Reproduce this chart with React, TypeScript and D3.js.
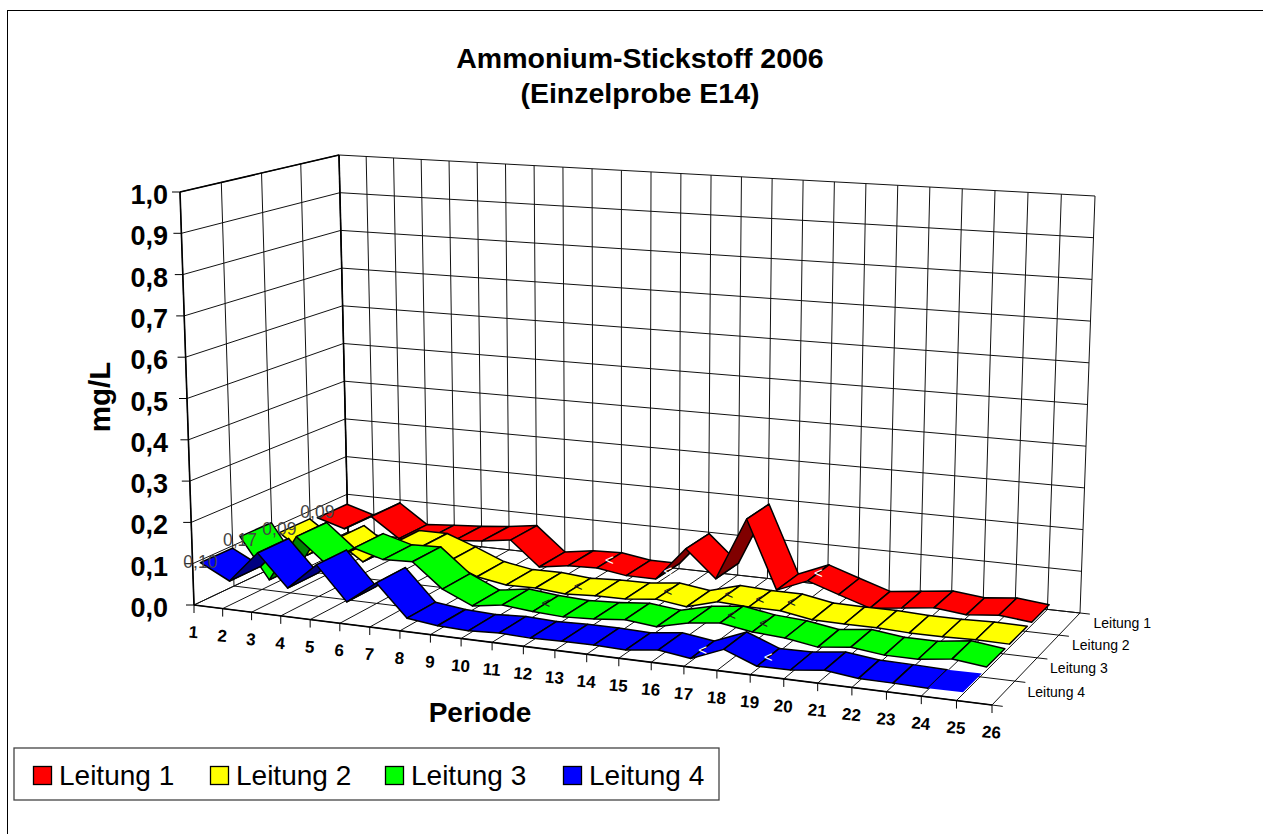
import React from "react";
import * as d3 from "d3";

const titleLines = ["Ammonium-Stickstoff 2006", "(Einzelprobe E14)"];
const seriesNames = ["Leitung 1", "Leitung 2", "Leitung 3", "Leitung 4"];
const seriesColors = ["#ff0000", "#ffff00", "#00ff00", "#0000ff"];
const backColors = ["#800000", "#808000", "#008000", "#000080"];
const periods = d3.range(1, 27);
const valueTicks = d3.range(0, 11).map(i => i / 10);

const leitung1 = [.078,.057,.096,.047,.053,.058,.065,.075,.015,.026,.029,.018,.018,.101,.035,.19,.024,.055,.03,.006,.015,.024,.016,.024,.016];
const leitung2 = [.084,.035,.082,.034,.085,.085,.059,.03,.018,.019,.013,.017,.018,.026,.016,.037,.033,.033,.02,.019,.019,.016,.016,.018,.017];
const leitung3 = [.118,.019,.134,.076,.122,.102,.105,.047,.015,.026,.019,.015,.019,.026,.018,.036,.045,.033,.028,.016,.025,.016,.016,.026,.017];
const leitung4 = [.098,.062,.138,.062,.126,.046,.1,.025,.016,.013,.017,.014,.016,.016,.014,.023,.013,.043,.014,.015,.024,.015,.014,.012,.013];
const seriesValues = [leitung1, leitung2, leitung3, leitung4];

const firstLabels = ["0,09", "0,09", "0,17", "0,10"];
const lessThanPoints = [[10, 12, 17], [10, 13, 15, 16, 17], [10, 16, 17], [16, 18]];
const lessThanColors = ["#fff", "#222", "#222", "#fff"];

// picture-plane corners of the chart box (floor and top), plus the skew of its two horizontal axes
const A = [194, 605], B = [992, 705], C = [1080, 613], D = [348, 532];
const E = [180, 192], H = [1002, 252], G = [1095, 196], F = [339, 155];
const skewU = 1.118, skewV = 0.95;
const labelNudgeY = [0, 2, 9, 5];
const warp = (t: number, c: number) => t / (c + (1 - c) * t);
const mix = (a: number[], b: number[], t: number) => [a[0] + (b[0] - a[0]) * t, a[1] + (b[1] - a[1]) * t];
const project = (u: number, v0: number, w: number) => {
  const t = warp(u, skewU), v = warp(v0, skewV);
  return mix(mix(mix(A, B, t), mix(D, C, t), v), mix(mix(E, H, t), mix(F, G, t), v), w);
};

const xScale = d3.scaleLinear().domain([1, 26]).range([0, 1]);
const zScale = d3.scaleBand<string>().domain([...seriesNames].reverse()).range([0, 1]);
const yScale = d3.scaleLinear().domain([0, 1]).range([0, 1]);
const ribbonFront = 0.03, ribbonBack = 0.23, pointShift = 0.1;
const poly = d3.line<number[]>().curve(d3.curveLinearClosed);
const seg = (a: number[], b: number[]) => d3.line<number[]>()([a, b]) as string;
const area2 = (p: number[][]) => d3.polygonArea(p as [number, number][]);

const font = "'Liberation Sans', Arial, sans-serif";

export default function App() {
  const gridV = periods.map(p => xScale(p));
  const depth = d3.range(0, 5).map(i => i / 4);
  const wallLines = [
    ...gridV.map(u => seg(project(u, 1, 0), project(u, 1, 1))),
    ...gridV.map(u => seg(project(u, 0, 0), project(u, 1, 0))),
    ...valueTicks.map(t => seg(project(0, 1, yScale(t)), project(1, 1, yScale(t)))),
    ...valueTicks.map(t => seg(project(0, 0, yScale(t)), project(0, 1, yScale(t)))),
    ...depth.map(v => seg(project(0, v, 0), project(1.012, v, 0))),
    ...depth.map(v => seg(project(0, v, 0), project(0, v, 1))),
  ];
  const frontAxis = [
    seg(project(0, 0, 0), project(1, 0, 0)),
    seg(project(0, 0, 0), project(0, 0, 1)),
    seg(project(0, 1, 0), project(0, 1, 1)),
    seg(project(0, 0, 1), project(0, 1, 1)),
  ];
  return (
    <svg width={1263} height={834} style={{ position: "absolute", left: 0, top: 0, background: "#fff" }} fontFamily={font}>
      <rect x={7.5} y={10.5} width={1300} height={900} fill="#fff" stroke="#000" />
      {titleLines.map((t, i) => (
        <text key={t} x={640} y={68 + i * 35} textAnchor="middle" fontWeight="bold" fontSize={28.5}>{t}</text>
      ))}
      <g fill="none" stroke="#111" strokeWidth={1}>
        {wallLines.map((d, i) => <path key={i} d={d} />)}
      </g>
      <g fill="none" stroke="#000" strokeWidth={1.6}>
        {frontAxis.map((d, i) => <path key={i} d={d} />)}
      </g>
      {valueTicks.map(t => {
        const p = project(0, 0, yScale(t));
        return (
          <g key={t}>
            <path d={seg([p[0] - 8, p[1]], p)} stroke="#000" />
            <text x={168} y={p[1] + 12} textAnchor="end" fontWeight="bold" fontSize={27}>{t.toFixed(1).replace(".", ",")}</text>
          </g>
        );
      })}
      {periods.map(n => {
        const p = project(xScale(n), 0, 0);
        return (
          <g key={n}>
            <path d={seg(p, [p[0], p[1] + 8])} stroke="#000" />
            <text transform={`translate(${p[0] - 1},${p[1] + 33}) rotate(5)`} textAnchor="middle" fontWeight="bold" fontSize={17}>{n}</text>
          </g>
        );
      })}
      {seriesNames.map(s => {
        const p = project(1, (zScale(s) as number) + zScale.bandwidth() / 2, 0);
        return <text key={s} x={p[0] + 24} y={p[1] + 4} fontSize={14}>{s}</text>;
      })}
      {seriesNames.map((s, k) => {
        const base = zScale(s) as number;
        const vals = seriesValues[k];
        const pt = (i: number, v: number) => project(xScale(i + 1 + pointShift), base + v, yScale(vals[i]));
        return (
          <g key={s}>
            {d3.range(vals.length - 1).map(i => {
              const q = [pt(i, ribbonFront), pt(i + 1, ribbonFront), pt(i + 1, ribbonBack), pt(i, ribbonBack)];
              const underside = area2(q) < 0;
              const last = k === 3 && i === vals.length - 2;
              return <path key={i} d={poly(q) as string} fill={underside ? backColors[k] : seriesColors[k]} stroke={last ? "none" : "#000"} strokeWidth={1.5} strokeLinejoin="round" />;
            })}
          </g>
        );
      })}
      {seriesNames.map((s, k) => {
        const base = zScale(s) as number;
        const vals = seriesValues[k];
        const p = project(xScale(1 + pointShift), base + ribbonFront, yScale(vals[0]));
        return (
          <g key={s}>
            <text x={p[0]} y={p[1] + labelNudgeY[k]} textAnchor="middle" fill="#444" fontSize={17.5}>{firstLabels[k]}</text>
            {lessThanPoints[k].map(i => {
              const q = project(xScale(i + 1 + pointShift), base + (ribbonFront + ribbonBack) / 2, yScale(vals[i]));
              return <text key={i} x={q[0]} y={q[1] + 5} textAnchor="middle" fill={lessThanColors[k]} fontSize={15}>{"<"}</text>;
            })}
          </g>
        );
      })}
      <text transform="translate(110,397) rotate(-90)" textAnchor="middle" fontWeight="bold" fontSize={29.5}>mg/L</text>
      <text x={480} y={722} textAnchor="middle" fontWeight="bold" fontSize={28}>Periode</text>
      <rect x={14} y={748} width={705} height={52} fill="#fff" stroke="#444" strokeWidth={1.3} />
      {seriesNames.map((s, k) => {
        const x = d3.scaleOrdinal<string, number>().domain(seriesNames).range([33, 210, 385, 563])(s);
        return (
          <g key={s}>
            <rect x={x + 0.5} y={766.5} width={18} height={18} fill={seriesColors[k]} stroke="#000" strokeWidth={1.3} />
            <text x={x + 26} y={785} fontSize={28}>{s}</text>
          </g>
        );
      })}
    </svg>
  );
}
